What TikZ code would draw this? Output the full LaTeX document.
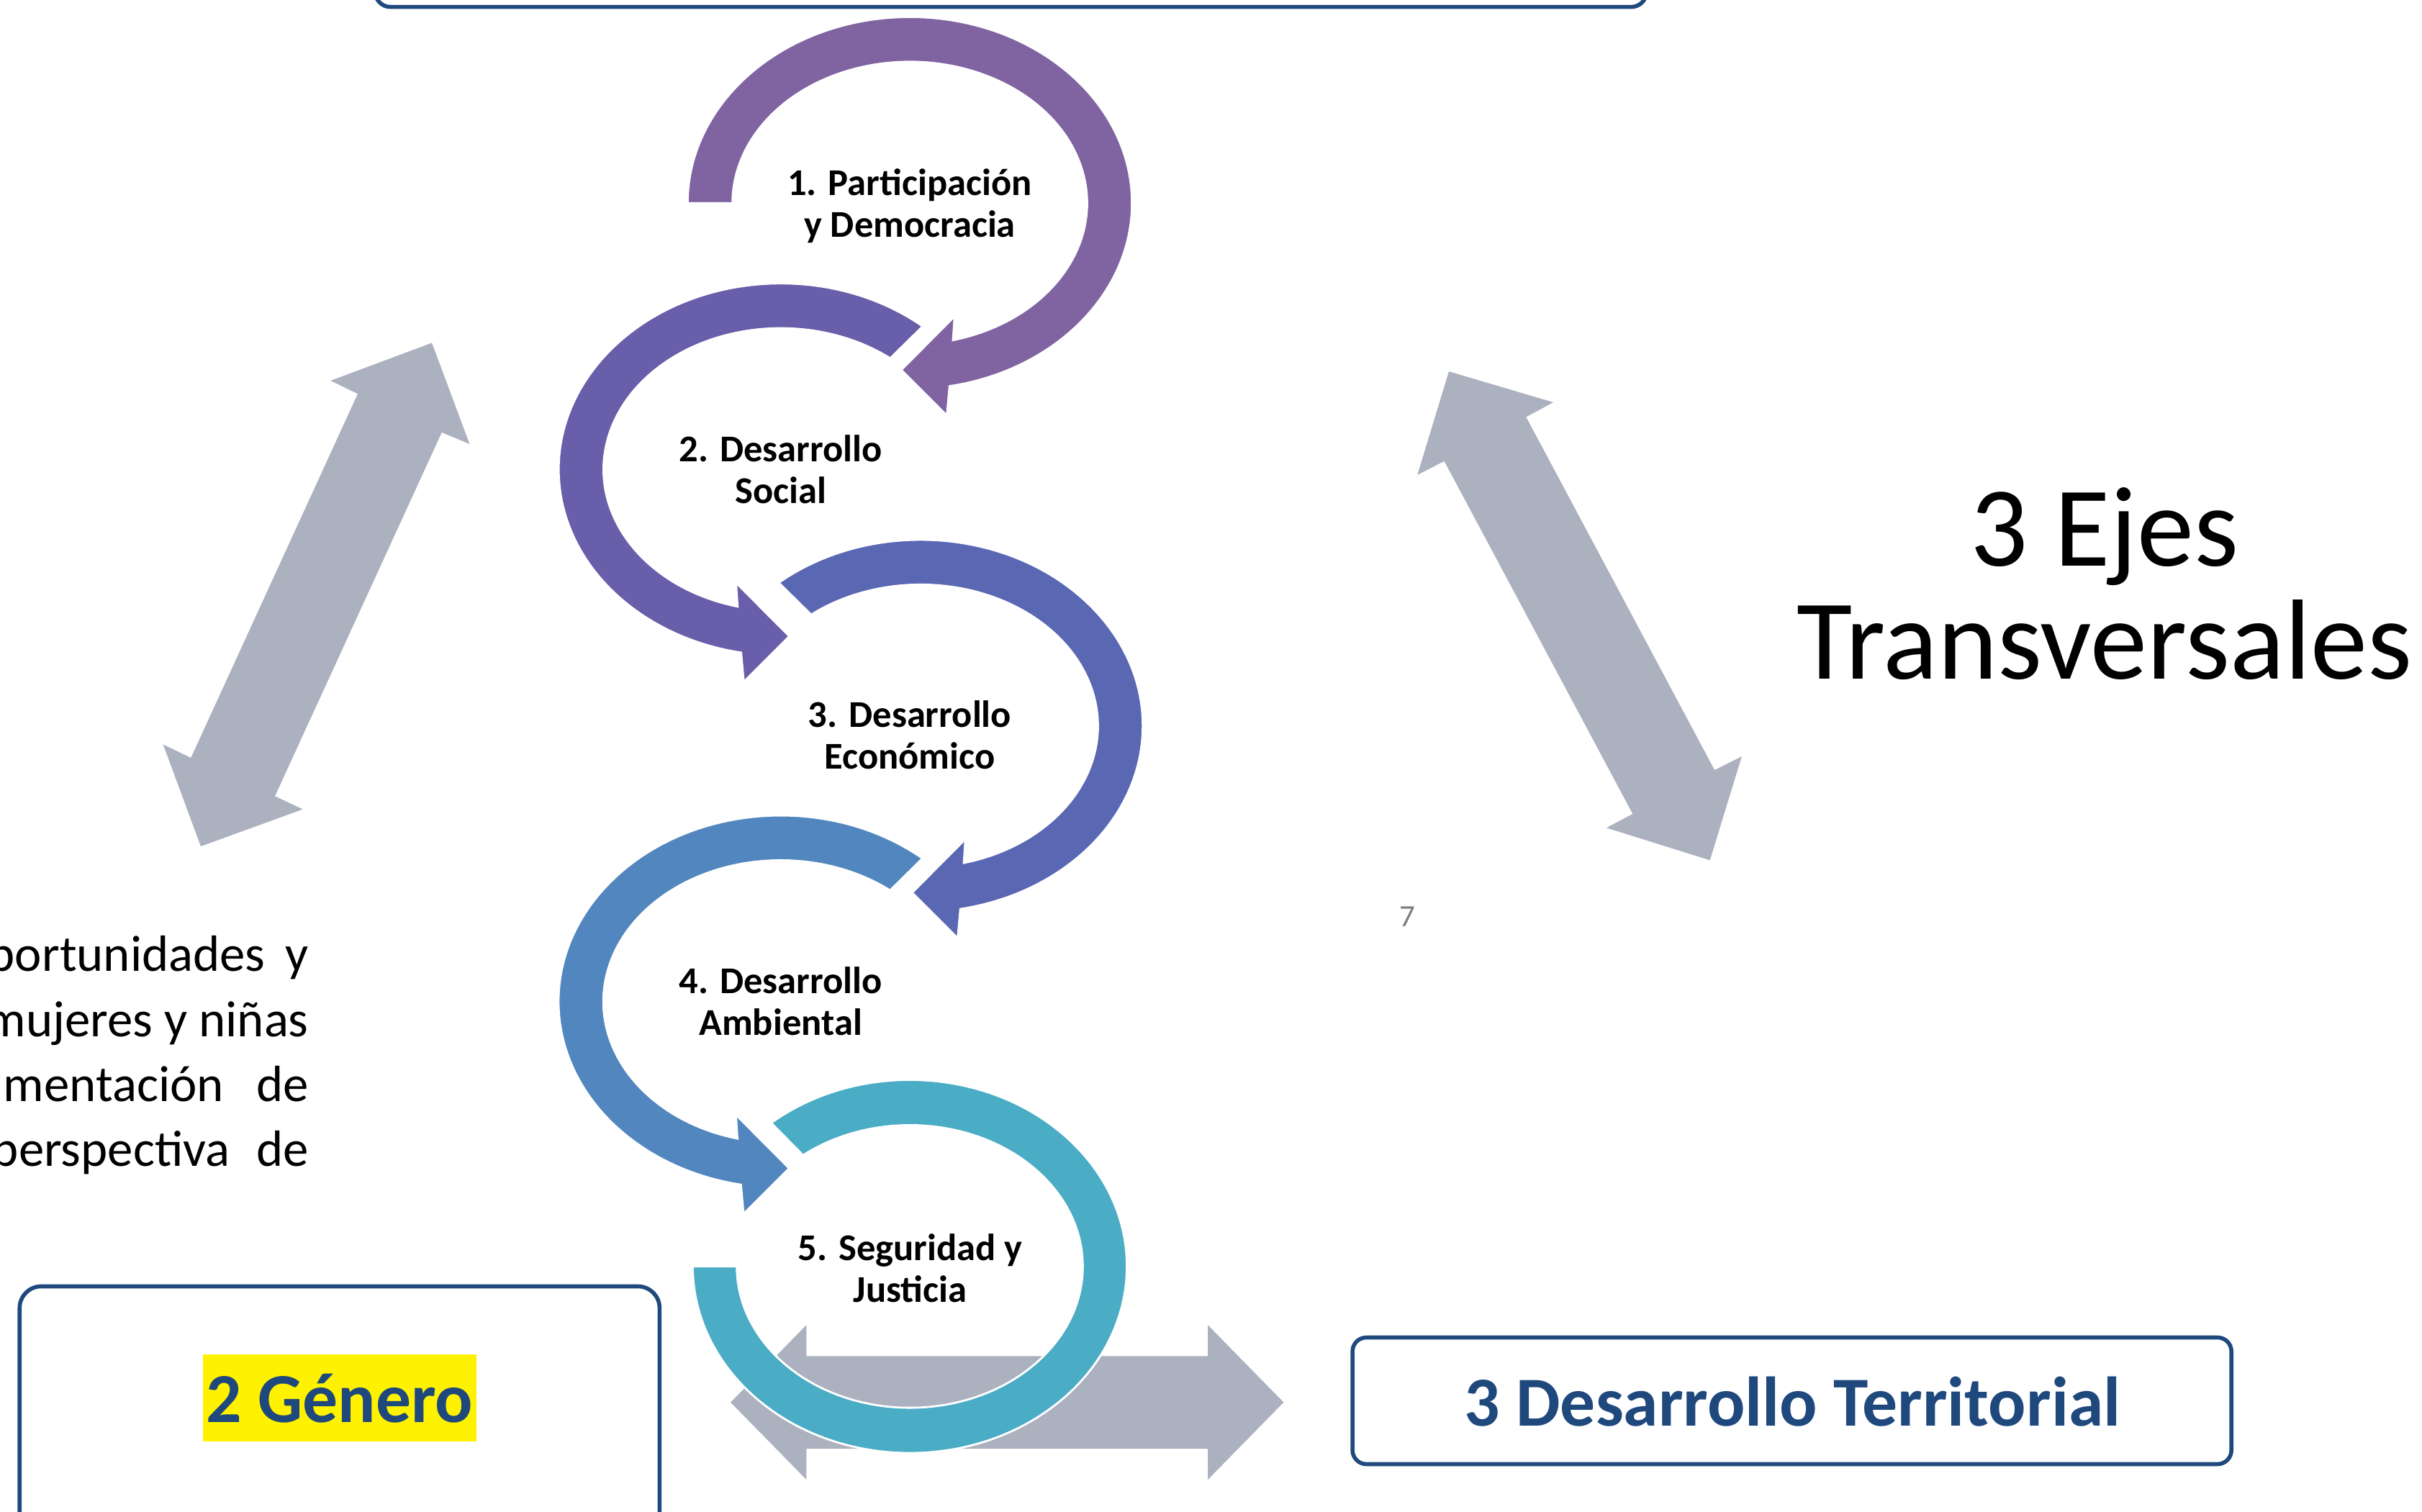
\documentclass[tikz,border=0pt]{standalone}
\usepackage{fontspec}
\setmainfont{Carlito}
\usetikzlibrary{calc}
\definecolor{ringA}{HTML}{8064A2}
\definecolor{ringB}{HTML}{695EA9}
\definecolor{ringC}{HTML}{5A67B3}
\definecolor{ringD}{HTML}{5286BE}
\definecolor{ringE}{HTML}{4BACC6}
\definecolor{grayarr}{HTML}{ACB1BF}
\definecolor{navy}{HTML}{1F497D}
\definecolor{pagegray}{HTML}{7F7F7F}
\newcommand{\ringarrow}[3]{%
  \fill[ringedge,#3] (#1:143.8 and 120.5)
    arc[start angle=#1,end angle=439.7,x radius=143.8,y radius=120.5]
    -- (24,137.5) -- (-5.5,108) -- (29,73.3)
    -- (435.9:114.8 and 91.5)
    arc[start angle=435.9,end angle=#2,x radius=114.8,y radius=91.5]
    -- cycle;}
\begin{document}
\begin{tikzpicture}[x=1pt,y=-1pt,
  ringedge/.style={draw=white,line width=1.3pt},
  grayshape/.style={fill=grayarr},
  frame/.style={draw=navy,line width=2.6pt},
  steplabel/.style={font=\bfseries\fontsize{24.5}{27}\selectfont,align=center,inner sep=0pt,anchor=base},
  bodytext/.style={font=\fontsize{33}{40}\selectfont,inner sep=0pt,anchor=base east}]
\useasboundingbox (0,0) rectangle (1568,979);
\clip (0,0) rectangle (1568,979);
% grey double arrows
\fill[grayshape] (279.6,222) -- (304,287.5) -- (286,280) -- (178,515.5) -- (196,524) -- (130,548) -- (105.6,482) -- (123.6,490.7) -- (231.6,255) -- (214,246.5) -- cycle;
\fill[grayshape] (938,240.5) -- (1005.6,260.5) -- (988,270) -- (1110,498.6) -- (1127.6,489.8) -- (1107,557) -- (1040,536) -- (1057,527) -- (935,298.6) -- (917.6,307.5) -- cycle;
\fill[grayshape] (473,908) -- (522,858) -- (522,878) -- (782,878) -- (782,858) -- (831,908) -- (782,958) -- (782,938) -- (522,938) -- (522,958) -- cycle;
% circular arrows
\begin{scope}[shift={(589,131.5)}]\ringarrow{180}{180}{fill=ringA}\end{scope}
\begin{scope}[shift={(505.5,304)},xscale=-1]\ringarrow{230.3}{231.9}{fill=ringB}\end{scope}
\begin{scope}[shift={(596,470)}]\ringarrow{230.3}{231.9}{fill=ringC}\end{scope}
\begin{scope}[shift={(505.4,648.5)},xscale=-1]\ringarrow{230.3}{231.9}{fill=ringD}\end{scope}
\begin{scope}[shift={(589,820)}]
\fill[ringedge,fill=ringE] (230.3:140.5 and 120.8)
  arc[start angle=230.3,end angle=540,x radius=140.5,y radius=120.8]
  -- (540:112 and 91.5)
  arc[start angle=540,end angle=231.9,x radius=112,y radius=91.5] -- cycle;
\end{scope}
% step labels (anchor base = baseline of the last line)
\node[steplabel] (s1) at (589,153.6) {1. Participación\\y Democracia};
\node[steplabel] (s2) at (505.5,325.8) {2. Desarrollo\\Social};
\node[steplabel] (s3) at (589,498) {3. Desarrollo\\Económico};
\node[steplabel] (s4) at (505.4,670.5) {4. Desarrollo\\Ambiental};
\node[steplabel] (s5) at (589.3,843) {5. Seguridad y\\Justicia};
% boxes
\node[frame,rounded corners=10pt,minimum width=823.2pt,minimum height=69pt,inner sep=0pt] (topbox) at (654.4,-30) {};
\node[frame,rounded corners=14pt,minimum width=414.3pt,minimum height=234.2pt,inner sep=0pt] (genbox) at (219.85,950) {};
\node[fill=yellow,text=navy,font=\bfseries\fontsize{45.5}{50}\selectfont,inner ysep=0pt,inner xsep=2.3pt,text height=43.8pt,text depth=12.6pt,anchor=base] (genero) at (220,920.8) {2 Género};
\node[frame,rounded corners=9pt,minimum width=569pt,minimum height=82pt,inner sep=0pt] (terrbox) at (1160.1,907) {};
\node[text=navy,font=\bfseries\fontsize{45.5}{50}\selectfont,inner sep=0pt,anchor=base] (terr) at (1160.5,923.5) {3 Desarrollo Territorial};
% right title
\node[font=\fontsize{73.8}{73}\selectfont,align=center,anchor=base,inner sep=0pt] (ejes) at (1362.5,439.5) {3 Ejes\\Transversales};
% page number
\node[font=\fontsize{20}{24}\selectfont,text=pagegray,anchor=base,inner sep=0pt] (pnum) at (911,600) {7};
% paragraph, cut by the left edge as in the reference
\node[bodytext] (p1a) at (172,629) {portunidades};
\node[bodytext] (p1b) at (200,629) {y};
\node[bodytext] (p2) at (200,671) {mujeres y niñas};
\node[bodytext] (p3a) at (145,713) {mentación};
\node[bodytext] (p3b) at (200,713) {de};
\node[bodytext] (p4a) at (149,755) {perspectiva};
\node[bodytext] (p4b) at (200,755) {de};
\end{tikzpicture}
\end{document}
